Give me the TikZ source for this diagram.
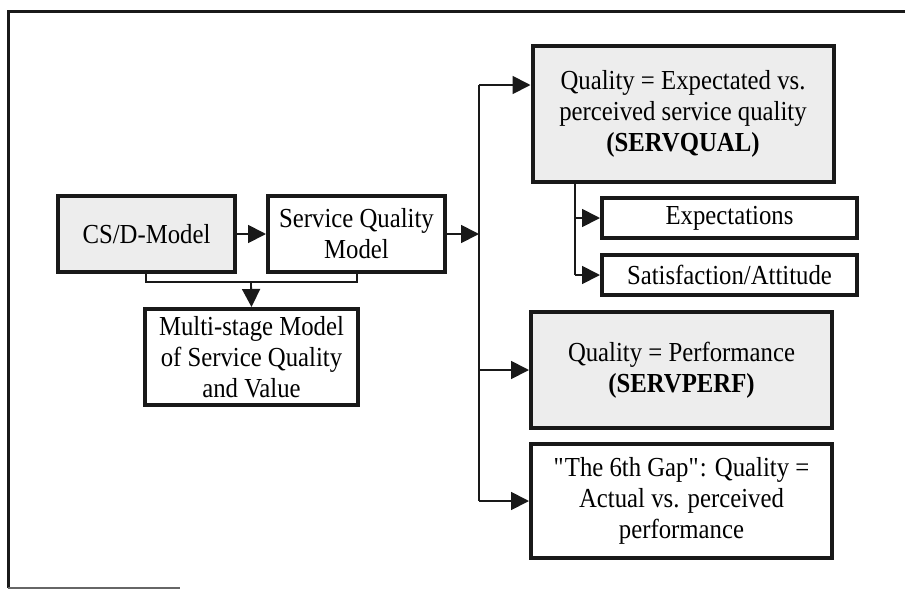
\documentclass[tikz,border=0pt]{standalone}
\usepackage{fontspec}
\setmainfont[FakeStretch=0.9]{Liberation Serif}
\usetikzlibrary{arrows.meta}
\begin{document}
\begin{tikzpicture}[x=1pt,y=-1pt,
  box/.style={draw=black!90,line width=4pt,inner sep=0pt,align=center,
    font=\fontsize{27.5}{31}\selectfont},
  shaded/.style={fill=black!7},
  conn/.style={line width=1.8pt,draw=black!90},
  arr/.style={conn,-{Triangle[length=18pt,width=18pt]}}]
\useasboundingbox (0,0) rectangle (905,590);
% frame
\draw[line width=3pt,black!90] (905,11) -- (8,11) -- (8,588);
\draw[line width=2pt,black!60] (8,588) -- (180,588);
% boxes
\node[box,shaded,minimum width=177pt,minimum height=76pt] (csd) at (146.5,234) {CS/D-Model};
\node[box,minimum width=177pt,minimum height=76pt] (sqm) at (356.5,234) {Service Quality\\Model};
\node[box,minimum width=213pt,minimum height=96pt] (ms) at (251.5,357) {Multi-stage Model\\of Service Quality\\and Value};
\node[box,shaded,minimum width=301pt,minimum height=136pt] (sq) at (683,114) {Quality = Expectated vs.\\perceived service quality\\\textbf{(SERVQUAL)}};
\node[box,minimum width=255pt,minimum height=40pt] (ex) at (729.5,218) {Expectations};
\node[box,minimum width=255pt,minimum height=40pt] (sa) at (729.5,275) {Satisfaction/Attitude};
\node[box,shaded,minimum width=301pt,minimum height=116pt] (sp) at (681.5,370) {Quality = Performance\\\textbf{(SERVPERF)}};
\node[box,minimum width=301pt,minimum height=114pt] (gap) at (681.5,501) {\textquotedbl The 6th Gap\textquotedbl: Quality =\\Actual vs. perceived\\performance};
% coordinates
\coordinate (trunk) at (479,234);
\coordinate (top) at (479,85);
\coordinate (b1) at (146,282);
\coordinate (b2) at (357,282);
\coordinate (bm) at (251,282);
\coordinate (sub) at (575,0);
% connectors
\draw[arr] (csd.east) -- (sqm.west);
\draw[arr] (sqm.east) -- (trunk);
\draw[conn] (top) -- (trunk |- gap.west);
\draw[arr] (top) -- (sq.west |- top);
\draw[arr] (trunk |- sp.west) -- (sp.west);
\draw[arr] (trunk |- gap.west) -- (gap.west);
\draw[conn] (csd.south -| b1) -- (b1) -- (b2) -- (sqm.south -| b2);
\draw[arr] (bm) -- (ms.north);
\draw[conn] (sub |- sq.south) -- (sub |- sa.west);
\draw[arr] (sub |- ex.west) -- (ex.west);
\draw[arr] (sub |- sa.west) -- (sa.west);
\end{tikzpicture}
\end{document}
